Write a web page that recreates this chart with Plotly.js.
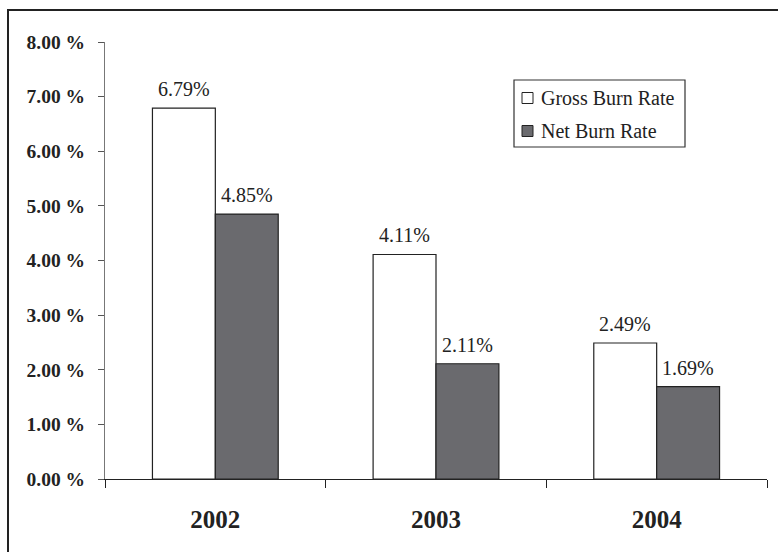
<!DOCTYPE html>
<html>
<head>
<meta charset="utf-8">
<script src="https://cdn.plot.ly/plotly-3.0.1.min.js"></script>
<style>html,body{margin:0;padding:0;background:#fff;}#chart{width:778px;height:552px;}</style>
</head>
<body>
<div id="chart"></div>
<script>
var years = ["2002", "2003", "2004"];
var seriesNames = ["Gross Burn Rate", "Net Burn Rate"];
var grossBurnRate = [6.79, 4.11, 2.49];
var netBurnRate = [4.85, 2.11, 1.69];
var yTickValues = [0, 1, 2, 3, 4, 5, 6, 7, 8];
var yTickLabels = ["0.00 %", "1.00 %", "2.00 %", "3.00 %", "4.00 %", "5.00 %", "6.00 %", "7.00 %", "8.00 %"];

var L = 105, R = 11, T = 42, B = 73;
var W = 778 - L - R, H = 552 - T - B;
function px(x) { return (x - L) / W; }
function py(y) { return (552 - B - y) / H; }

var serif = "Liberation Serif, Times New Roman, serif";
var ink = "#222222";
var gapFrac = 0.43;
var halfBar = (W / years.length) * (1 - gapFrac) / 4;

var colors = ["#ffffff", "#6a6a6e"];
var allSeries = [grossBurnRate, netBurnRate];

var traces = allSeries.map(function(vals, k) {
  return {
    type: "bar", name: seriesNames[k], x: years, y: vals,
    marker: {color: colors[k], line: {color: ink, width: 1.2}},
    showlegend: false, hoverinfo: "skip"
  };
});

var annotations = [];
allSeries.forEach(function(vals, k) {
  vals.forEach(function(v, i) {
    annotations.push({
      xref: "x", yref: "y", x: i, y: v,
      xshift: (k === 0 ? -1 : 1) * halfBar, yshift: 6,
      yanchor: "bottom", xanchor: "center", showarrow: false,
      text: v.toFixed(2) + "%",
      font: {family: serif, size: 20, color: ink}
    });
  });
});

// legend (drawn manually)
var legX0 = 514, legX1 = 685, legY0 = 80, legY1 = 147;
var rowY = [98, 131];
var shapes = [
  {type: "rect", xref: "paper", yref: "paper",
   x0: px(8), x1: px(790), y0: py(565), y1: py(10),
   line: {color: ink, width: 2}, fillcolor: "rgba(0,0,0,0)", layer: "above"},
  {type: "rect", xref: "paper", yref: "paper",
   x0: px(legX0), x1: px(legX1), y0: py(legY1), y1: py(legY0),
   line: {color: "#333333", width: 1.2}, fillcolor: "#ffffff", layer: "above"}
];
seriesNames.forEach(function(name, k) {
  shapes.push({type: "rect", xref: "paper", yref: "paper",
    x0: px(522), x1: px(533), y0: py(rowY[k] + 5.5), y1: py(rowY[k] - 5.5),
    line: {color: ink, width: 1}, fillcolor: colors[k], layer: "above"});
  annotations.push({xref: "paper", yref: "paper", x: px(539), y: py(rowY[k]),
    xanchor: "left", yanchor: "middle", showarrow: false, text: name,
    font: {family: serif, size: 20, color: ink}});
});

var layout = {
  width: 778, height: 552,
  margin: {l: L, r: R, t: T, b: B, pad: 0},
  paper_bgcolor: "#ffffff", plot_bgcolor: "#ffffff",
  font: {family: serif, color: ink},
  barmode: "group", bargap: gapFrac, bargroupgap: 0,
  showlegend: false,
  xaxis: {
    type: "category", tickson: "boundaries", range: [-0.5, 2.5], autorange: false,
    ticks: "outside", ticklen: 8, tickcolor: ink, tickwidth: 1,
    showline: true, linecolor: ink, linewidth: 1.2,
    showgrid: false, zeroline: false,
    tickfont: {family: serif, size: 25, color: ink, weight: "bold"},
    ticklabelstandoff: 18
  },
  yaxis: {
    range: [0, 8], autorange: false, tickvals: yTickValues, ticktext: yTickLabels,
    ticks: "outside", ticklen: 6, tickcolor: "#555555", tickwidth: 1,
    showline: true, linecolor: "#777777", linewidth: 1,
    showgrid: false, zeroline: false,
    tickfont: {family: serif, size: 19.5, color: ink, weight: "bold"},
    ticklabelstandoff: 9
  },
  shapes: shapes,
  annotations: annotations
};

Plotly.newPlot("chart", traces, layout, {displayModeBar: false, staticPlot: true});
</script>
</body>
</html>
